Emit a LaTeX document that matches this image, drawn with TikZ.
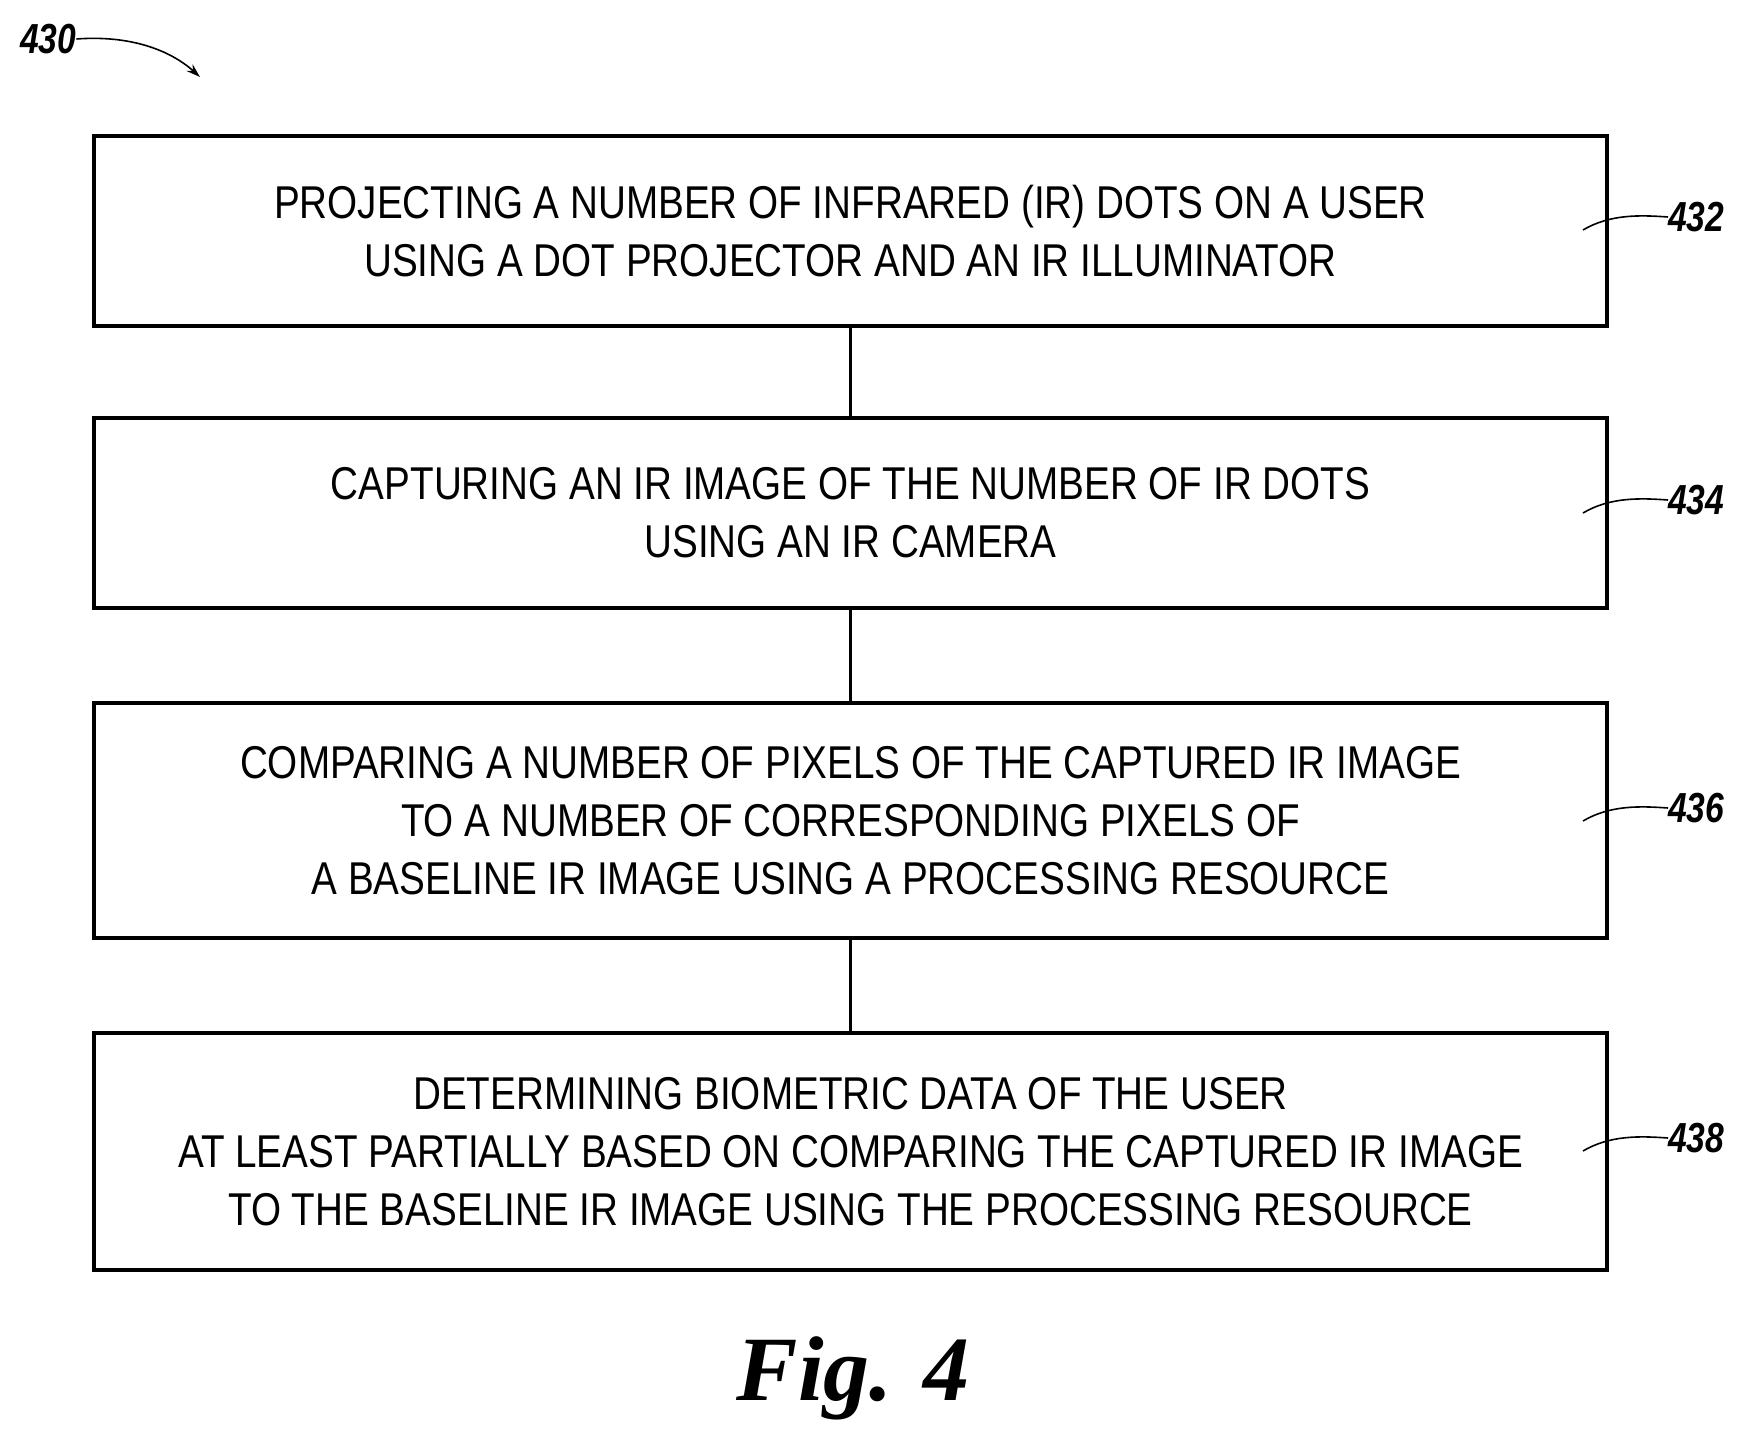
\documentclass[tikz,border=0pt]{standalone}
\usepackage{fontspec}
\usetikzlibrary{arrows.meta}
\setmainfont{Liberation Sans}[FakeStretch=0.84]
\newfontfamily\labf{Liberation Sans}[FakeStretch=0.8]
\newfontfamily\figf{Liberation Serif}
\begin{document}
\begin{tikzpicture}[x=1pt,y=-1pt,
  stepbox/.style={draw,line width=3.5pt,minimum width=1513pt,align=center,font=\fontsize{46}{58}\selectfont,inner sep=0pt},
  lab/.style={font=\labf\bfseries\itshape\fontsize{42}{42}\selectfont,anchor=west,inner sep=0pt},
  lead/.style={line width=1.6pt}]
\useasboundingbox (0,0) rectangle (1759,1450);
\node[stepbox,minimum height=190pt] (b1) at (850.5,231) {PROJECTING A NUMBER OF INFRARED (IR) DOTS ON A USER\\USING A DOT PROJECTOR AND AN IR ILLUMINATOR};
\node[stepbox,minimum height=190pt] (b2) at (850.5,513) {CAPTURING AN IR IMAGE OF THE NUMBER OF IR DOTS\\USING AN IR CAMERA};
\node[stepbox,minimum height=235pt] (b3) at (850.5,820.5) {COMPARING A NUMBER OF PIXELS OF THE CAPTURED IR IMAGE\\TO A NUMBER OF CORRESPONDING PIXELS OF\\A BASELINE IR IMAGE USING A PROCESSING RESOURCE};
\node[stepbox,minimum height=237pt] (b4) at (850.5,1151.5) {DETERMINING BIOMETRIC DATA OF THE USER\\AT LEAST PARTIALLY BASED ON COMPARING THE CAPTURED IR IMAGE\\TO THE BASELINE IR IMAGE USING THE PROCESSING RESOURCE};
\draw[line width=3.5pt] (b1) -- (b2);
\draw[line width=3.5pt] (b2) -- (b3);
\draw[line width=3.5pt] (b3) -- (b4);
\foreach \n/\y/\t in {1/217/432,2/500/434,3/808/436,4/1138/438}{
  \node[lab] (l\n) at (1668,\y) {\t};
  \draw[lead] (1583,\y+13) .. controls (1610,\y-3) and (1640,\y-2) .. (l\n.west);
}
\node[lab] (l0) at (20,39) {430};
\coordinate (a0) at (200,77);
\draw[lead,-{Stealth[length=14pt,width=9pt]}] (l0.east) .. controls (130,35) and (170,50) .. (a0);
\node[font=\figf\bfseries\itshape\fontsize{92}{92}\selectfont] (fig) at (853,1378) {Fig. 4};
\end{tikzpicture}
\end{document}
